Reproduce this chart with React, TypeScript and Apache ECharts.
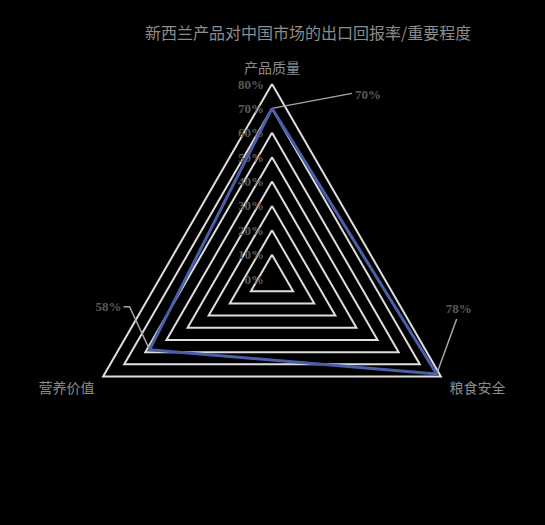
import { useEffect, useRef } from "react";
import * as echarts from "echarts";

const titleText = "新西兰产品对中国市场的出口回报率/重要程度";
const indicatorNames = ["产品质量", "营养价值", "粮食安全"];
const seriesValues = [70, 58, 78];
const maxValue = 80;
const tickLabels = ["0%", "10%", "20%", "30%", "40%", "50%", "60%", "70%", "80%"];

// label leader offsets from each data vertex
const leaderPaths: number[][][] = [
  [[0, 0], [80, -15]],
  [[0, 0], [-20, -43], [-26, -43]],
  [[0, 0], [20, -55]],
];
const labelAnchors = [
  { dx: 83, dy: -14, align: "left" },
  { dx: -28, dy: -43, align: "right" },
  { dx: 22, dy: -66, align: "center" },
];

export default function App() {
  const ref = useRef<HTMLDivElement | null>(null);

  useEffect(() => {
    document.body.style.margin = "0";
    if (!ref.current) return;
    const chart = echarts.init(ref.current, null, { renderer: "svg" });
    chart.setOption({
      animation: false,
      backgroundColor: "#000000",
      title: {
        text: titleText,
        left: 140,
        top: 19,
        textStyle: {
          color: "#8c8c8c",
          fontSize: 16,
          fontWeight: "normal",
          fontFamily: "Noto Sans CJK SC",
        },
      },
      radar: {
        center: [272, 279],
        radius: 195,
        startAngle: 90,
        splitNumber: 8,
        shape: "polygon",
        indicator: indicatorNames.map((name, i) => ({
          name,
          max: maxValue,
          min: 0,
          axisLabel: { show: i === 0 },
        })),
        axisName: {
          color: "#8c8c8c",
          fontSize: 14,
          fontFamily: "Noto Sans CJK SC",
          formatter: (name: string) =>
            name === indicatorNames[0] ? `{t|${name}}` : `{b|${name}}`,
          rich: {
            t: { color: "#8c8c8c", fontSize: 14, fontFamily: "Noto Sans CJK SC" },
            b: {
              color: "#8c8c8c",
              fontSize: 14,
              fontFamily: "Noto Sans CJK SC",
              padding: [11, 0, 0, 0],
            },
          },
        },
        nameGap: 10,
        axisLine: { show: false },
        axisTick: { show: false },
        axisLabel: {
          show: false,
          color: "#595959",
          fontSize: 13,
          fontWeight: "bold",
          fontFamily: "Liberation Serif",
          margin: 8,
          formatter: (_v: number, idx: number) => tickLabels[idx],
        },
        splitLine: { lineStyle: { color: "#dedede", width: 2 } },
        splitArea: { show: false },
      },
      series: [
        {
          type: "radar",
          symbol: "none",
          lineStyle: { color: "#4a5fa8", width: 3 },
          data: [{ value: seriesValues }],
        },
      ],
    });

    const radar = (chart as any).getModel().getComponent("radar").coordinateSystem;
    const graphics: any[] = [];
    seriesValues.forEach((v, i) => {
      const [px, py] = radar.dataToPoint(v, i);
      graphics.push({
        type: "polyline",
        silent: true,
        shape: { points: leaderPaths[i].map(([dx, dy]) => [px + dx, py + dy]) },
        style: { stroke: "#a6a6a6", lineWidth: 1.5, fill: null },
      });
      const a = labelAnchors[i];
      graphics.push({
        type: "text",
        silent: true,
        x: px + a.dx,
        y: py + a.dy,
        style: {
          text: `${v}%`,
          fill: "#595959",
          font: "bold 13px 'Liberation Serif'",
          align: a.align,
          verticalAlign: "middle",
        },
      });
    });
    chart.setOption({ graphic: graphics });

    return () => chart.dispose();
  }, []);

  return <div ref={ref} style={{ width: 545, height: 525 }} />;
}
